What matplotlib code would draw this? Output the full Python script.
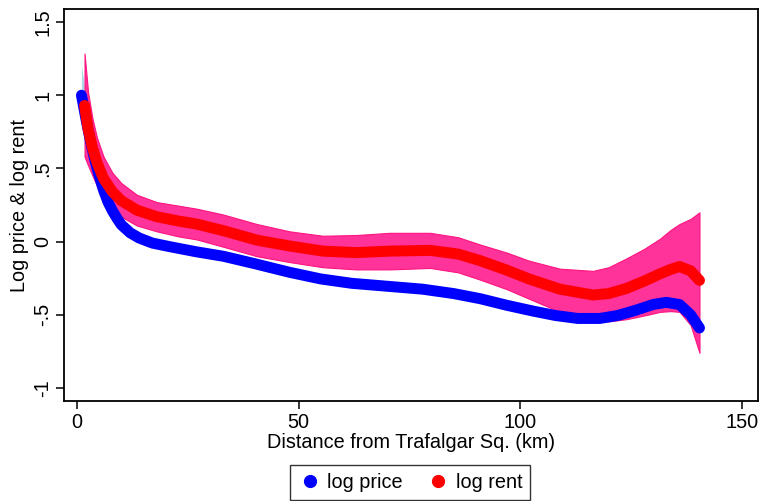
import matplotlib
matplotlib.use("Agg")
import matplotlib.pyplot as plt
from matplotlib.lines import Line2D

plt.rcParams['font.family'] = ['Liberation Sans', 'DejaVu Sans']

# log price (fitted) and CI
price_x = [1, 2, 3, 4, 5, 6, 7, 8, 9, 10, 12, 14, 17, 21, 27, 33, 40, 48, 55, 62, 70,
           78, 85, 91, 97, 103, 108, 113, 118, 122, 126, 130, 133, 136, 138.5, 140.5]
price_y = [1.0, 0.84, 0.69, 0.56, 0.45, 0.35, 0.27, 0.21, 0.16, 0.115, 0.06, 0.025,
           -0.01, -0.035, -0.07, -0.10, -0.15, -0.21, -0.255, -0.285, -0.305, -0.325,
           -0.355, -0.39, -0.435, -0.475, -0.505, -0.525, -0.525, -0.505, -0.47, -0.43,
           -0.415, -0.43, -0.50, -0.59]
price_hi = [1.21, 0.99, 0.80, 0.64, 0.51, 0.40, 0.31, 0.24, 0.185, 0.14, 0.08, 0.045,
            0.01, -0.015, -0.05, -0.08, -0.13, -0.19, -0.235, -0.265, -0.285, -0.305,
            -0.335, -0.37, -0.415, -0.455, -0.485, -0.505, -0.505, -0.485, -0.45, -0.41,
            -0.39, -0.39, -0.43, -0.45]
price_lo = [0.78, 0.70, 0.59, 0.48, 0.39, 0.30, 0.23, 0.18, 0.135, 0.09, 0.04, 0.005,
            -0.03, -0.055, -0.09, -0.12, -0.17, -0.23, -0.275, -0.305, -0.325, -0.345,
            -0.375, -0.41, -0.455, -0.495, -0.525, -0.55, -0.55, -0.53, -0.495, -0.455,
            -0.445, -0.48, -0.58, -0.75]

# log rent (fitted) and CI
rent_x = [1.7, 2.5, 3.5, 4.5, 6, 8, 10, 13.5, 18, 23, 27, 33, 40.6, 48, 55.5, 63, 70.6,
          79.7, 86, 91, 97, 102, 109, 116.5, 120, 124, 128, 131.6, 134, 136, 138.5, 140.5]
rent_y = [0.93, 0.77, 0.64, 0.54, 0.43, 0.34, 0.28, 0.215, 0.17, 0.14, 0.12, 0.075,
          0.01, -0.03, -0.065, -0.075, -0.065, -0.06, -0.085, -0.13, -0.195, -0.255,
          -0.325, -0.365, -0.355, -0.32, -0.27, -0.22, -0.19, -0.17, -0.20, -0.265]
rent_hi = [1.285, 1.02, 0.84, 0.71, 0.58, 0.47, 0.40, 0.32, 0.27, 0.245, 0.225, 0.185,
           0.12, 0.07, 0.04, 0.045, 0.06, 0.06, 0.03, -0.02, -0.075, -0.13, -0.185,
           -0.20, -0.175, -0.115, -0.05, 0.02, 0.08, 0.12, 0.155, 0.20]
rent_lo = [0.58, 0.52, 0.45, 0.38, 0.29, 0.22, 0.17, 0.11, 0.07, 0.035, 0.015, -0.035,
           -0.10, -0.14, -0.175, -0.19, -0.19, -0.18, -0.21, -0.26, -0.325, -0.39, -0.48,
           -0.54, -0.545, -0.53, -0.505, -0.48, -0.475, -0.48, -0.57, -0.76]

xticks = [0, 50, 100, 150]
yticks = [-1, -0.5, 0, 0.5, 1, 1.5]
ytick_labels = ['-1', '-.5', '0', '.5', '1', '1.5']

FS = 14.3

fig = plt.figure(figsize=(7.65, 5.01), dpi=100)
ax = fig.add_axes([0.0837, 0.1996, 0.9071, 0.7824])

ax.fill_between(price_x, price_lo, price_hi, color='#ADD8E6', lw=0, zorder=1)
ax.fill_between(rent_x, rent_lo, rent_hi, facecolor='#FF3399', edgecolor='#FF1480',
                lw=0.8, zorder=2)

lw = 7.9
ax.plot(price_x, price_y, '-', color='#0000FF', lw=lw, solid_capstyle='round',
        solid_joinstyle='round', zorder=3)
ax.plot(rent_x, rent_y, '-', color='#FF0000', lw=lw, solid_capstyle='round',
        solid_joinstyle='round', zorder=4)

ax.set_xlim(-2.93, 153.7)
ax.set_ylim(-1.089, 1.589)
ax.set_xticks(xticks)
ax.set_xticklabels([str(t) for t in xticks])
ax.set_yticks(yticks)
ax.set_yticklabels(ytick_labels, rotation=90, va='center')
ax.tick_params(direction='out', length=5.5, width=1.1, labelsize=FS, colors='black',
               pad=3)
for s in ax.spines.values():
    s.set_linewidth(1.3)

ax.set_xlabel('Distance from Trafalgar Sq. (km)', fontsize=FS, labelpad=1)
ax.set_ylabel('Log price & log rent', fontsize=FS, labelpad=3)

handles = [Line2D([], [], ls='none', marker='o', ms=8.5, color='#0000FF'),
           Line2D([], [], ls='none', marker='o', ms=8.5, color='#FF0000')]
leg = fig.legend(handles, ['log price', 'log rent'], loc='upper center',
                 bbox_to_anchor=(0.536, 0.072), ncol=2, fontsize=FS, frameon=True,
                 fancybox=False, edgecolor='black', handletextpad=0.3,
                 columnspacing=1.15, handlelength=1.2, borderpad=0.4,
                 borderaxespad=0)
leg.get_frame().set_linewidth(1.0)

fig.savefig('out.png', dpi=100)
